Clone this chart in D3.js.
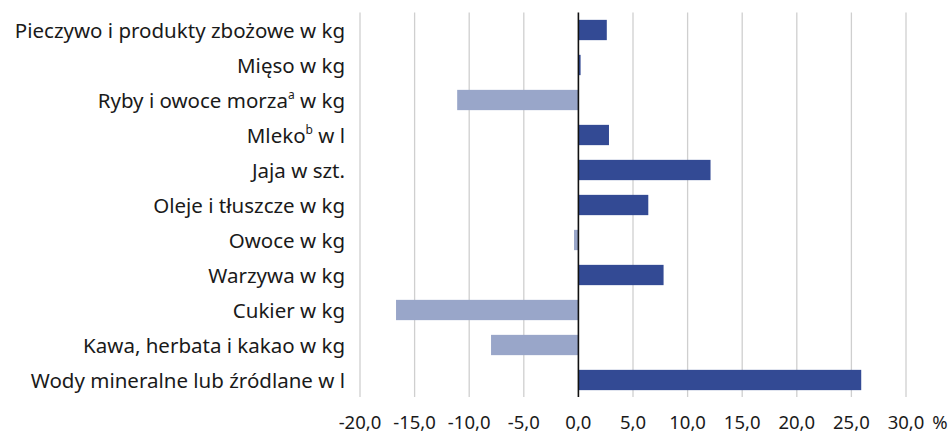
<!DOCTYPE html>
<html lang="pl">
<head>
<meta charset="UTF-8">
<title>Zmiana spożycia</title>
<script src="https://d3js.org/d3.v7.min.js"></script>
<style>
  *{padding:0; margin:0;}
  body{background:#fff;}
  text{font-family:"Noto Sans", sans-serif; fill:#1a1a1a;}
</style>
</head>
<body>
<script>
// categories top to bottom, sup = superscript after the main word
const categories = [
  {name:"Pieczywo i produkty zbożowe w kg"},
  {name:"Mięso w kg"},
  {name:"Ryby i owoce morza", sup:"a", rest:" w kg"},
  {name:"Mleko", sup:"b", rest:" w l"},
  {name:"Jaja w szt."},
  {name:"Oleje i tłuszcze w kg"},
  {name:"Owoce w kg"},
  {name:"Warzywa w kg"},
  {name:"Cukier w kg"},
  {name:"Kawa, herbata i kakao w kg"},
  {name:"Wody mineralne lub źródlane w l"}
];
const values = [2.6, 0.2, -11.1, 2.8, 12.1, 6.4, -0.4, 7.8, -16.7, -8.0, 25.9];
const ticks = [-20, -15, -10, -5, 0, 5, 10, 15, 20, 25, 30];

const W = 949, H = 435;
const svg = d3.select("body").append("svg").attr("width", W).attr("height", H);

const x = d3.scaleLinear().domain([-20, 30]).range([360, 906]);
const y = d3.scaleBand().domain(d3.range(categories.length)).range([12.5, 397.5]).paddingInner(0.42).paddingOuter(0.21);

// gridlines
svg.append("g").selectAll("line").data(ticks.filter(t => t !== 0)).enter().append("line")
  .attr("x1", d => x(d)).attr("x2", d => x(d))
  .attr("y1", 12.5).attr("y2", 397)
  .attr("stroke", "#cfcfcf").attr("stroke-width", 1.3);

// bars
svg.append("g").selectAll("rect").data(values).enter().append("rect")
  .attr("x", d => x(Math.min(0, d)))
  .attr("width", d => Math.abs(x(d) - x(0)))
  .attr("y", (d, i) => y(i))
  .attr("height", y.bandwidth())
  .attr("fill", d => d < 0 ? "#99a6c9" : "#334a94");

// zero line
svg.append("line").attr("x1", x(0)).attr("x2", x(0)).attr("y1", 12.5).attr("y2", 397)
  .attr("stroke", "#111").attr("stroke-width", 1.6);

// category labels
const labels = svg.append("g").selectAll("text").data(categories).enter().append("text")
  .attr("x", 345)
  .attr("y", (d, i) => y(i) + y.bandwidth() / 2)
  .attr("dominant-baseline", "central")
  .attr("text-anchor", "end")
  .attr("font-size", 20.5);
labels.append("tspan").text(d => d.name);
labels.filter(d => d.sup).append("tspan").text(d => d.sup)
  .attr("font-size", 12).attr("dy", -6);
labels.filter(d => d.sup).append("tspan").text(d => d.rest).attr("dy", 6);

// x tick labels
svg.append("g").selectAll("text").data(ticks).enter().append("text")
  .attr("x", d => x(d))
  .attr("y", 421)
  .attr("text-anchor", "middle")
  .attr("dominant-baseline", "central")
  .attr("font-size", 18.5)
  .text(d => d3.format(".1f")(d).replace(".", ",").replace("\u2212", "-"));

svg.append("text").attr("x", 940).attr("y", 421)
  .attr("text-anchor", "middle").attr("dominant-baseline", "central")
  .attr("font-size", 18.5).text("%");
</script>
</body>
</html>
